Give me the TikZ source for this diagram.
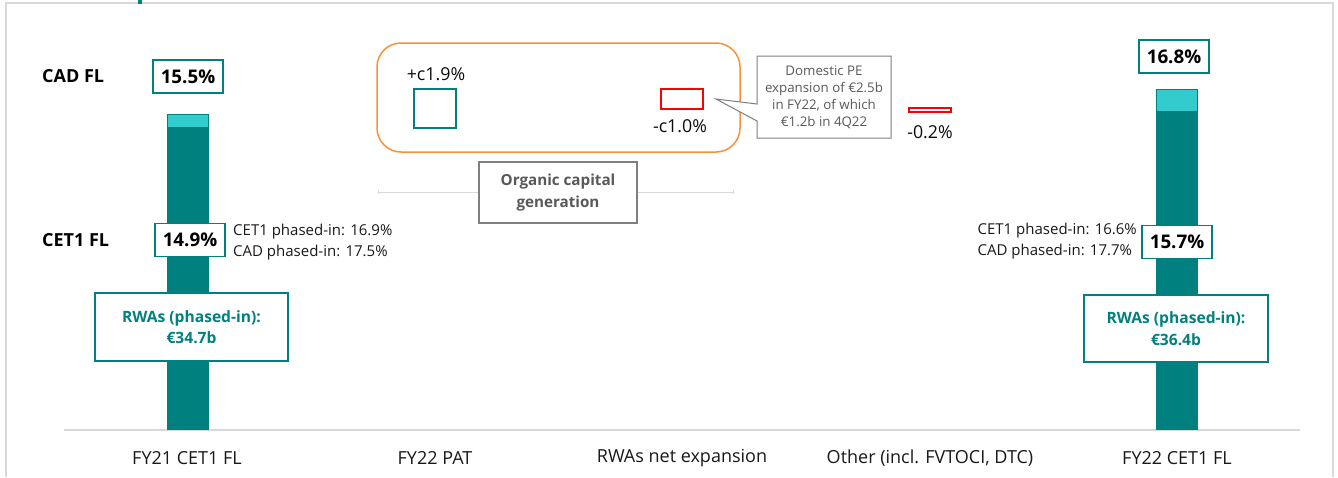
\documentclass[tikz,border=0pt]{standalone}
\usepackage{fontspec}
\setmainfont{Open Sans}
\definecolor{tealA}{HTML}{00807F}
\definecolor{tealL}{HTML}{33CCCC}
\definecolor{orangeA}{HTML}{F7923A}
\definecolor{grayA}{HTML}{7F7F7F}
\definecolor{grayT}{HTML}{595959}
\definecolor{grayL}{HTML}{D9D9D9}
\definecolor{redA}{HTML}{FF0000}
\tikzset{
  pctbox/.style={draw=tealA, line width=1.5pt, fill=white, inner sep=0pt,
    minimum width=70pt, minimum height=33pt, font=\fontsize{18.8}{20}\selectfont\bfseries},
  rwabox/.style={draw=tealA, line width=1.5pt, fill=white, inner sep=0pt, align=center,
    text=tealA, font=\fontsize{15.6}{21.5}\selectfont\bfseries},
  rowlab/.style={anchor=west, inner sep=0pt, font=\fontsize{18}{20}\selectfont\bfseries},
  axlab/.style={inner sep=0pt, font=\fontsize{18}{20}\selectfont, text=black!90},
  phased/.style={inner sep=0pt, align=left, font=\fontsize{15}{21}\selectfont, text=black!90},
  deltalab/.style={inner sep=0pt, font=\fontsize{17.8}{20}\selectfont, text=black!95},
  bardark/.style={fill=tealA, draw=none},
  barlight/.style={fill=tealL, draw=tealA, line width=1pt},
}
\begin{document}
\begin{tikzpicture}[x=1pt,y=-1pt]
\useasboundingbox (0,0) rectangle (1338,477);
\fill[white] (0,0) rectangle (1338,477);
% frame
\draw[grayL, line width=1.2pt] (6,477) -- (6,3) -- (1333,3) -- (1333,477);
\fill[tealA] (138,0) rectangle (142,4);
% axis
\draw[grayL, line width=1.5pt] (64,430) -- (1300,430);
% left bar
\fill[bardark] (167,114) rectangle (209,430);
\filldraw[barlight] (167.5,114.5) rectangle (208.5,127);
% right bar
\fill[bardark] (1156,89) rectangle (1198,430);
\filldraw[barlight] (1156.5,89.5) rectangle (1197.5,111);
% row labels
\node[rowlab] (cadfl) at (42,76) {CAD FL};
\node[rowlab] (cetfl) at (42,240) {CET1 FL};
% left boxes
\node[pctbox] (b155) at (188,76.5) {15.5\%};
\node[pctbox] (b149) at (190,240) {14.9\%};
\node[phased, anchor=west] (ph1) at (233,242.5) {CET1 phased-in: 16.9\%\\CAD phased-in: 17.5\%};
\node[rwabox, minimum width=193pt, minimum height=68pt] (rwa1) at (191.5,327) {RWAs (phased-in):\\€34.7b};
% right boxes
\node[pctbox] (b168) at (1174,56.5) {16.8\%};
\node[pctbox] (b157) at (1177,242) {15.7\%};
\node[phased, anchor=east] (ph2) at (1137,241.5) {CET1 phased-in: 16.6\%\\CAD phased-in: 17.7\%};
\node[rwabox, minimum width=184pt, minimum height=67pt] (rwa2) at (1176,328.5) {RWAs (phased-in):\\€36.4b};
% organic group
\draw[grayL, line width=1pt] (378,192) -- (733,192);
\draw[grayL, line width=1pt] (378,190) -- (378,194) (733,190) -- (733,194);
\node[draw=orangeA, line width=1.5pt, rounded corners=24pt, minimum width=363pt, minimum height=109pt, inner sep=0pt] (org) at (558.5,97.5) {};
\node[draw=tealA, line width=1.5pt, fill=white, minimum width=42pt, minimum height=39pt, inner sep=0pt] (patbar) at (435,108.5) {};
\node[deltalab] (pat) at (436,74) {+c1.9\%};
\node[draw=redA, line width=1.5pt, fill=white, minimum width=42pt, minimum height=20pt, inner sep=0pt] (rwabar) at (682,99) {};
\node[deltalab] (rwad) at (680,126) {-c1.0\%};
\node[draw=grayA, line width=1.5pt, fill=white, minimum width=158pt, minimum height=61pt, inner sep=0pt, align=center,
  text=grayT, font=\fontsize{15.2}{21.5}\selectfont\bfseries] (ocg) at (558,192.5) {Organic capital\\generation};
% callout
\coordinate (tip) at (716,99);
\draw[grayA, line width=1pt, fill=white] (757,56) -- (891,56) -- (891,138) -- (757,138) -- (757,121) -- (tip) -- (757,104) -- cycle;
\node[inner sep=0pt, align=center, text=grayT, font=\fontsize{13.3}{17}\selectfont] (call) at (824,97.5) {Domestic PE\\expansion of €2.5b\\in FY22, of which\\€1.2b in 4Q22};
% other
\node[draw=redA, line width=1.5pt, fill=white, minimum width=42pt, minimum height=4pt, inner sep=0pt] (othbar) at (930,110) {};
\node[deltalab] (othd) at (930,132) {-0.2\%};
% axis labels
\node[axlab] (x1) at (187,458) {FY21 CET1 FL};
\node[axlab] (x2) at (435,458) {FY22 PAT};
\node[axlab] (x3) at (682,458) {RWAs net expansion};
\node[axlab] (x4) at (930,458) {Other (incl. FVTOCI, DTC)};
\node[axlab] (x5) at (1177,458) {FY22 CET1 FL};
\end{tikzpicture}
\end{document}
